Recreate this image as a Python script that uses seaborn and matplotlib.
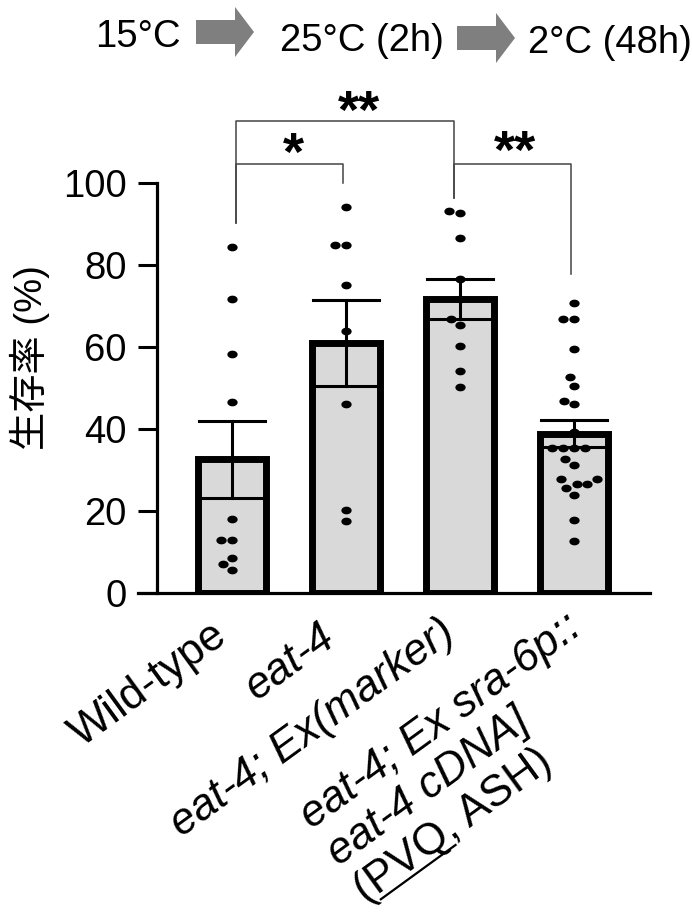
import numpy as np
import pandas as pd
import matplotlib
matplotlib.use("Agg")
import matplotlib.pyplot as plt
import seaborn as sns
from matplotlib.transforms import ScaledTranslation
from matplotlib.patches import Polygon
from matplotlib.lines import Line2D
from matplotlib.path import Path
from matplotlib.font_manager import FontProperties

# ---------------- data ----------------
groups = ["Wild-type", "eat-4", "eat-4; Ex(marker)", "eat-4; Ex sra-6p::eat-4 cDNA] (PVQ, ASH)"]
wild_type = [84.4, 71.6, 58.2, 46.6, 18.0, 13.0, 13.0, 8.7, 7.1, 5.7]
eat4 = [94.2, 84.9, 84.9, 75.2, 63.8, 46.2, 20.3, 17.7]
eat4_marker = [93.0, 92.6, 86.6, 76.6, 71.6, 66.8, 65.3, 60.2, 54.2, 50.3]
eat4_rescue = [70.7, 66.9, 66.9, 59.6, 52.7, 50.4, 46.9, 46.2, 39.2, 35.5, 35.5,
               35.5, 35.5, 32.6, 31.2, 27.8, 27.8, 26.5, 26.5, 25.7, 23.9, 17.8, 12.8]
label_lines = [["Wild-type"], ["eat-4"], ["eat-4; Ex(marker)"],
               ["eat-4; Ex sra-6p::", "eat-4 cDNA]", "(PVQ, ASH)"]]
label_italic = [[False], [True], [True], [True, True, False]]
yticks = [0, 20, 40, 60, 80, 100]
ylabel = "生存率 (%)"
header_texts = ["15°C", "25°C (2h)", "2°C (48h)"]
# significance brackets: (left group, right group, label)
sig_pairs = [(0, 1, "*"), (0, 2, "**"), (2, 3, "**")]
sig_heights = [104.5, 115.1, 104.6]
sig_left_bottom = [90.1, 90.1, 96.2]
sig_right_bottom = [99.9, 96.2, 77.7]

# ---------------- figure ----------------
DPI = 100
W, H = 692, 916
plt.rcParams["font.family"] = ["Liberation Sans", "Noto Sans CJK JP"]
fig = plt.figure(figsize=(W / DPI, H / DPI), dpi=DPI)
ax_left, ax_right, ax_top, ax_bot = 138, 650, 182.7, 593.3
ax = fig.add_axes([ax_left / W, 1 - ax_bot / H, (ax_right - ax_left) / W, (ax_bot - ax_top) / H])

df = pd.DataFrame({
    "group": [groups[0]] * len(wild_type) + [groups[1]] * len(eat4)
             + [groups[2]] * len(eat4_marker) + [groups[3]] * len(eat4_rescue),
    "value": wild_type + eat4 + eat4_marker + eat4_rescue,
})

sns.barplot(data=df, x="group", y="value", order=groups, errorbar="se",
            capsize=0.58, width=0.59, color="#d9d9d9", saturation=1,
            edgecolor="black", linewidth=5,
            err_kws={"color": "black", "linewidth": 2.2}, ax=ax)

t = np.linspace(0, 2 * np.pi, 40)
ellipse = Path(np.column_stack([np.cos(t), 0.75 * np.sin(t)]))
sns.swarmplot(data=df, x="group", y="value", order=groups, color="black",
              size=7.4, linewidth=0, marker=ellipse, ax=ax, zorder=5)

ax.set_xlim(-0.825, 3.667)
ax.set_ylim(0, 100)
ax.spines["top"].set_visible(False)
ax.spines["right"].set_visible(False)
ax.spines["left"].set_position(("data", -0.658))
ax.spines["left"].set_linewidth(2.3)
ax.spines["bottom"].set_linewidth(2.3)
ax.set_yticks(yticks)
ax.tick_params(axis="y", length=13.7, width=2.2, labelsize=27.5, pad=8)
ax.tick_params(axis="x", length=0, labelbottom=False)
ax.set_xlabel("")
ax.set_ylabel(ylabel, fontsize=27.5)
ax.yaxis.set_label_coords(-0.171, 0.573)

# ---------------- x labels (rotated) ----------------
ROT = 36
theta = np.deg2rad(ROT)
cu, su = np.cos(theta), np.sin(theta)
FS_X = 31.5


def offs(a, b):
    # a along the text direction, b perpendicular (downwards), in pixels
    return (a * cu + b * su, a * su - b * cu)


def tr(dx, dy):
    return ax.get_xaxis_transform() + ScaledTranslation(dx / DPI, dy / DPI, fig.dpi_scale_trans)


renderer = fig.canvas.get_renderer()


def text_width(s, italic):
    fp = FontProperties(family=["Liberation Sans"], style="italic" if italic else "normal", size=FS_X)
    w, h, d = renderer.get_text_width_height_descent(s, fp, ismath=False)
    return w


label_a = [-30, -36, -28]
label_b = [36, 34, 34]
for i in range(3):
    dx, dy = offs(label_a[i], label_b[i])
    ax.text(i, 0, label_lines[i][0], transform=tr(dx, dy), rotation=ROT,
            rotation_mode="anchor", ha="right", va="baseline", fontsize=FS_X,
            fontstyle="italic" if label_italic[i][0] else "normal", clip_on=False)

# multi-line label for group 4 (lines left-aligned)
a_end1, b1, spacing = -15, 37, 46
w1 = text_width(label_lines[3][0], True)
a_start = a_end1 - w1
for k, (line, it) in enumerate(zip(label_lines[3], label_italic[3])):
    dx, dy = offs(a_start, b1 + k * spacing)
    ax.text(3, 0, line, transform=tr(dx, dy), rotation=ROT, rotation_mode="anchor",
            ha="left", va="baseline", fontsize=FS_X,
            fontstyle="italic" if it else "normal", clip_on=False)

# underline under "PVQ"
line3 = label_lines[3][2]
u0 = a_start + text_width(line3[:1], False)
u1 = a_start + text_width(line3[:4], False)
bu = b1 + 2 * spacing + 5
p0, p1 = offs(u0, bu), offs(u1, bu)
anchor_disp = ax.get_xaxis_transform().transform((3, 0))
fig.add_artist(Line2D([anchor_disp[0] + p0[0], anchor_disp[0] + p1[0]],
                      [anchor_disp[1] + p0[1], anchor_disp[1] + p1[1]],
                      color="black", linewidth=1.6, transform=None, clip_on=False))

# ---------------- significance brackets ----------------
leg_x = {0: 0.032, 1: 0.976, 2: 1.95, 3: 2.974}
star_x = [0.535, 1.114, 2.48]
star_base = [103.2, 113.4, 103.7]
for (g1, g2, lab), hgt, lb, rb, sx, sb in zip(sig_pairs, sig_heights, sig_left_bottom,
                                             sig_right_bottom, star_x, star_base):
    ax.plot([leg_x[g1], leg_x[g1], leg_x[g2], leg_x[g2]], [lb, hgt, hgt, rb],
            color="#444444", linewidth=1.1, clip_on=False, zorder=6)
    ax.text(sx, sb, lab, ha="center", va="baseline", fontsize=39,
            fontweight="bold", clip_on=False)

# ---------------- header ----------------
header_x = [95.4, 280, 528]
header_base = [47, 51, 53]
for s, x, yb in zip(header_texts, header_x, header_base):
    fig.text(x / W, 1 - yb / H, s, fontsize=27.5, ha="left", va="baseline")


def arrow(x0, yc, body_len=39, head_len=19, hb=12, hh=25):
    xh, xt = x0 + body_len, x0 + body_len + head_len
    pts = [(x0, yc - hb), (xh, yc - hb), (xh, yc - hh), (xt, yc), (xh, yc + hh),
           (xh, yc + hb), (x0, yc + hb)]
    pts = [(x / W, 1 - y / H) for x, y in pts]
    fig.add_artist(Polygon(pts, closed=True, facecolor="#7f7f7f", edgecolor="none",
                           transform=fig.transFigure))


arrow(196, 32)
arrow(457, 38)

fig.savefig("out.png", dpi=DPI)
